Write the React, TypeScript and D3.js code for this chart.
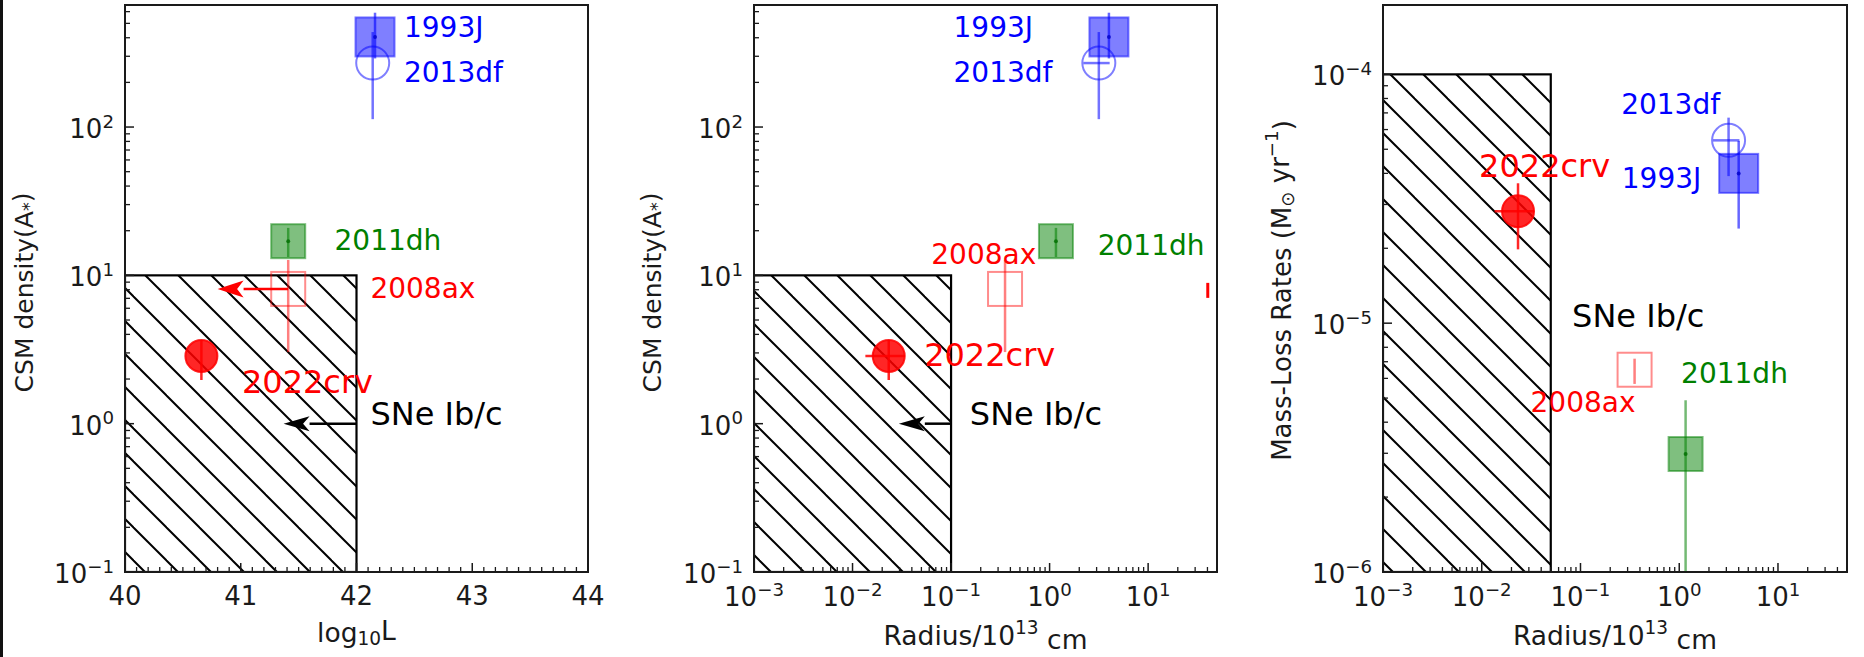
import React from "react";
import * as d3 from "d3";

const FONT = "'DejaVu Sans', Verdana, sans-serif";

// ---------------- data ----------------
const snNames = ["1993J", "2013df", "2011dh", "2008ax", "2022crv"];
const logLum = [42.16, 42.14, 41.41, 41.41, 40.66];
const csmDensity = [405, 270, 17, 8.1, 2.86];
const csmDensityLo = [290, 113, 13.3, 3.04, 1.97];
const csmDensityHi = [590, 437, 20.9, 12.7, 3.66];
const radius = [4.0, 3.16, 1.16, 0.353, 0.0233];
const radiusLo = [4.0, 2.2, 1.16, 0.353, 0.0135];
const radiusHi = [4.0, 4.07, 1.16, 0.353, 0.034];
const massLoss = [4.0e-5, 5.43e-5, 2.98e-6, 6.5e-6, 2.82e-5];
const massLossLo = [2.4e-5, 3.9e-5, 5e-7, 5.7e-6, 1.98e-5];
const massLossHi = [5.4e-5, 6.7e-5, 4.9e-6, 7.2e-6, 3.65e-5];

// 2008ax luminosity upper limit (arrow), panel 1
const limitLogL = [41.41, 40.8];
const limitDensity = 8.1;

// SNe Ib/c regions
const ibcLogL = [40, 42];
const ibcRadius = [1e-3, 0.1];
const ibcDensity = [0.1, 10];
const ibcRadiusMdot = [1e-3, 0.05];
const ibcMdot = [1e-6, 1e-4];
const ibcArrowLogL = [42, 41.37];
const ibcArrowRadius = [0.1, 0.0295];
const ibcArrowDensity = 1;
const ibcText = "SNe Ib/c";
const ibcTextP1 = [42.12, 1.16];
const ibcTextP2 = [0.155, 1.16];
const ibcTextP3 = [0.0822, 1.07e-5];

// stray red mark at right edge of panel 2
const strayRadius = 40.3;
const strayDensity = [7.05, 8.9];

// annotation positions (data coordinates)
const p1LabelX = [42.41, 42.41, 41.81, 42.12, 41.01];
const p1LabelY = [466, 235, 17.3, 8.1, 1.91];
const p2LabelX = [0.106, 0.106, 3.08, 0.063, 0.0533];
const p2LabelY = [466, 235, 16, 13.9, 2.9];
const p3LabelX = [0.262, 0.258, 1.045, 0.0312, 0.0094];
const p3LabelY = [3.81e-5, 7.57e-5, 6.3e-6, 4.78e-6, 4.3e-5];

// axes
const lumDomain = [40, 44];
const lumTicks = [40, 41, 42, 43, 44];
const densityDomain = [0.1, 665];
const densityTickExps = [-1, 0, 1, 2];
const radiusDomain = [1e-3, 50];
const radiusTickExps = [-3, -2, -1, 0, 1];
const mdotDomain = [1e-6, 1.9e-4];
const mdotTickExps = [-6, -5, -4];

// ---------------- styles ----------------
const W = 1864;
const H = 657;
const TOP = 5;
const BOTTOM = 572;
const TICK_FS = 26;
const LABEL_FS = 25;
const XLABEL_FS = 26.5;
const ANN_FS = 28;
const BIG_FS = 32;

const STYLE: Record<string, any> = {
  "1993J": { shape: "square", size: 39, fill: "rgba(0,0,255,0.5)", stroke: "rgba(0,0,255,0.5)", err: "rgba(0,0,255,0.6)", text: "#0000ff", dot: "rgba(0,0,200,0.8)" },
  "2013df": { shape: "circle", size: 33, fill: "none", stroke: "rgba(0,0,255,0.5)", err: "rgba(0,0,255,0.55)", text: "#0000ff" },
  "2011dh": { shape: "square", size: 34, fill: "rgba(0,128,0,0.5)", stroke: "rgba(0,128,0,0.5)", err: "rgba(0,128,0,0.55)", text: "#008000", dot: "rgba(0,110,0,0.8)" },
  "2008ax": { shape: "square", size: 34, fill: "none", stroke: "rgba(255,0,0,0.45)", err: "rgba(255,0,0,0.5)", text: "#ff0000" },
  "2022crv": { shape: "circle", size: 32, fill: "rgba(255,0,0,0.85)", stroke: "rgba(255,0,0,0.85)", err: "rgba(255,0,0,0.85)", text: "#ff0000" },
};

const supText = (e: number) => (e < 0 ? "\u2212" + Math.abs(e) : String(e));

function logMinor(domain: number[]) {
  const out: number[] = [];
  const lo = Math.floor(Math.log10(domain[0]));
  const hi = Math.ceil(Math.log10(domain[1]));
  for (let e = lo; e <= hi; e++) {
    for (let m = 2; m <= 9; m++) {
      const v = m * Math.pow(10, e);
      if (v >= domain[0] && v <= domain[1]) out.push(v);
    }
  }
  return out;
}

function Marker({ name, cx, cy }: { name: string; cx: number; cy: number }) {
  const s = STYLE[name];
  if (s.shape === "square") {
    return (
      <g>
        <rect x={cx - s.size / 2} y={cy - s.size / 2} width={s.size} height={s.size}
          fill={s.fill} stroke={s.stroke} strokeWidth={2} />
        {s.dot && <circle cx={cx} cy={cy} r={2} fill={s.dot} />}
      </g>
    );
  }
  return <circle cx={cx} cy={cy} r={s.size / 2} fill={s.fill} stroke={s.stroke} strokeWidth={2} />;
}

function Arrow({ x1, x2, y, color, headLen, headW }: any) {
  const dir = x2 < x1 ? -1 : 1;
  const base = x2 - dir * headLen;
  return (
    <g>
      <line x1={x1} y1={y} x2={base} y2={y} stroke={color} strokeWidth={2.5} />
      <path d={`M${x2},${y} L${base},${y - headW / 2} L${base + dir * headLen * 0.25},${y} L${base},${y + headW / 2} Z`} fill={color} />
    </g>
  );
}

function Hatch({ id, phase }: { id: string; phase: number }) {
  const p = 33;
  return (
    <pattern id={id} patternUnits="userSpaceOnUse" width={p} height={p} patternTransform={`translate(${phase},0)`}>
      <line x1={0} y1={0} x2={p} y2={p} stroke="#000" strokeWidth={2} />
      <line x1={-p} y1={0} x2={p} y2={2 * p} stroke="#000" strokeWidth={2} />
      <line x1={0} y1={-p} x2={2 * p} y2={p} stroke="#000" strokeWidth={2} />
    </pattern>
  );
}

function Frame({ left, right }: { left: number; right: number }) {
  return <rect x={left} y={TOP} width={right - left} height={BOTTOM - TOP} fill="none" stroke="#1a1a1a" strokeWidth={2} />;
}

function YLogAxis({ y, left, exps, domain }: any) {
  const minor = logMinor(domain);
  return (
    <g>
      {minor.map((v: number, i: number) => (
        <line key={"m" + i} x1={left} x2={left + 5} y1={y(v)} y2={y(v)} stroke="#1a1a1a" strokeWidth={1.3} />
      ))}
      {exps.map((e: number) => {
        const yy = y(Math.pow(10, e));
        return (
          <g key={e}>
            <line x1={left} x2={left + 9} y1={yy} y2={yy} stroke="#1a1a1a" strokeWidth={1.5} />
            <text x={left - 11} y={yy + 2} textAnchor="end" dominantBaseline="central" fontSize={TICK_FS} fontFamily={FONT} fill="#1a1a1a">
              10<tspan dy="-0.45em" fontSize="0.7em">{supText(e)}</tspan>
            </text>
          </g>
        );
      })}
    </g>
  );
}

function XLogAxis({ x, exps, domain }: any) {
  const minor = logMinor(domain);
  return (
    <g>
      {minor.map((v: number, i: number) => (
        <line key={"m" + i} x1={x(v)} x2={x(v)} y1={BOTTOM} y2={BOTTOM - 5} stroke="#1a1a1a" strokeWidth={1.3} />
      ))}
      {exps.map((e: number) => {
        const xx = x(Math.pow(10, e));
        return (
          <g key={e}>
            <line x1={xx} x2={xx} y1={BOTTOM} y2={BOTTOM - 9} stroke="#1a1a1a" strokeWidth={1.5} />
            <text x={xx} y={BOTTOM + 25} textAnchor="middle" dominantBaseline="central" fontSize={TICK_FS} fontFamily={FONT} fill="#1a1a1a">
              10<tspan dy="-0.45em" fontSize="0.7em">{supText(e)}</tspan>
            </text>
          </g>
        );
      })}
    </g>
  );
}

function Points({ x, y, xs, ys, yLo, yHi, xLo, xHi }: any) {
  return (
    <g>
      {snNames.map((n, i) => {
        const s = STYLE[n];
        return (
          <g key={n}>
            <line x1={x(xs[i])} x2={x(xs[i])} y1={y(yLo[i])} y2={y(yHi[i])} stroke={s.err} strokeWidth={2.5} />
            {xLo && xLo[i] !== xHi[i] && (
              <line x1={x(xLo[i])} x2={x(xHi[i])} y1={y(ys[i])} y2={y(ys[i])} stroke={s.err} strokeWidth={2.5} />
            )}
            <Marker name={n} cx={x(xs[i])} cy={y(ys[i])} />
          </g>
        );
      })}
    </g>
  );
}

function Labels({ x, y, lx, ly }: any) {
  return (
    <g>
      {snNames.map((n, i) => (
        <text key={n} x={x(lx[i])} y={y(ly[i])} dominantBaseline="central" fontSize={n === "2022crv" ? BIG_FS : ANN_FS}
          fontFamily={FONT} fill={STYLE[n].text}>{n}</text>
      ))}
    </g>
  );
}

export default function App() {
  const L1 = 125, R1 = 588, L2 = 754, R2 = 1217, L3 = 1383, R3 = 1847;
  const x1 = d3.scaleLinear().domain(lumDomain).range([L1, R1]);
  const x2 = d3.scaleLog().domain(radiusDomain).range([L2, R2]);
  const x3 = d3.scaleLog().domain(radiusDomain).range([L3, R3]);
  const yD = d3.scaleLog().domain(densityDomain).range([BOTTOM, TOP]);
  const yM = d3.scaleLog().domain(mdotDomain).range([BOTTOM, TOP]);

  const lumMinor = d3.range(lumDomain[0], lumDomain[1] + 1e-9, 0.1).filter((v) => Math.abs(v - Math.round(v)) > 1e-6);

  return (
    <svg width={W} height={H} viewBox={`0 0 ${W} ${H}`} style={{ position: "absolute", left: 0, top: 0, background: "#fff" }}
      fontFamily={FONT}>
      <defs>
        <Hatch id="h1" phase={2} />
        <Hatch id="h2" phase={1} />
        <Hatch id="h3" phase={29} />
        <clipPath id="c1"><rect x={L1} y={TOP} width={R1 - L1} height={BOTTOM - TOP} /></clipPath>
        <clipPath id="c2"><rect x={L2} y={TOP} width={R2 - L2} height={BOTTOM - TOP} /></clipPath>
        <clipPath id="c3"><rect x={L3} y={TOP} width={R3 - L3} height={BOTTOM - TOP} /></clipPath>
      </defs>
      <rect x={0} y={0} width={W} height={H} fill="#fff" />
      <rect x={0} y={0} width={3} height={H} fill="#111" />

      {/* ---------------- Panel 1 ---------------- */}
      <g clipPath="url(#c1)">
        <rect x={x1(ibcLogL[0])} y={yD(ibcDensity[1])} width={x1(ibcLogL[1]) - x1(ibcLogL[0])} height={yD(ibcDensity[0]) - yD(ibcDensity[1])}
          fill="url(#h1)" stroke="#000" strokeWidth={2.2} />
        <Arrow x1={x1(ibcArrowLogL[0])} x2={x1(ibcArrowLogL[1])} y={yD(ibcArrowDensity)} color="#000" headLen={26} headW={15} />
        <Points x={x1} y={yD} xs={logLum} ys={csmDensity} yLo={csmDensityLo} yHi={csmDensityHi} />
        <Arrow x1={x1(limitLogL[0])} x2={x1(limitLogL[1])} y={yD(limitDensity)} color="#ff0000" headLen={26} headW={17} />
      </g>
      <Labels x={x1} y={yD} lx={p1LabelX} ly={p1LabelY} />
      <text x={x1(ibcTextP1[0])} y={yD(ibcTextP1[1])} dominantBaseline="central" fontSize={BIG_FS} fill="#000">{ibcText}</text>
      <Frame left={L1} right={R1} />
      <YLogAxis y={yD} left={L1} exps={densityTickExps} domain={densityDomain} />
      {lumMinor.map((v, i) => (
        <line key={i} x1={x1(v)} x2={x1(v)} y1={BOTTOM} y2={BOTTOM - 5} stroke="#1a1a1a" strokeWidth={1.3} />
      ))}
      {lumTicks.map((t) => (
        <g key={t}>
          <line x1={x1(t)} x2={x1(t)} y1={BOTTOM} y2={BOTTOM - 9} stroke="#1a1a1a" strokeWidth={1.5} />
          <text x={x1(t)} y={BOTTOM + 24} textAnchor="middle" dominantBaseline="central" fontSize={TICK_FS} fill="#1a1a1a">{t}</text>
        </g>
      ))}
      <text x={(L1 + R1) / 2} y={632} textAnchor="middle" dominantBaseline="central" fontSize={XLABEL_FS} fill="#1a1a1a">
        log<tspan dy="0.3em" fontSize="0.7em">10</tspan><tspan dy="-0.3em">L</tspan>
      </text>
      <text transform={`translate(24,${(TOP + BOTTOM) / 2 + 4}) rotate(-90)`} textAnchor="middle" dominantBaseline="central" fontSize={LABEL_FS} fill="#1a1a1a">
        CSM density(A<tspan dy="0.3em" fontSize="0.7em">*</tspan><tspan dy="-0.3em">)</tspan>
      </text>

      {/* ---------------- Panel 2 ---------------- */}
      <g clipPath="url(#c2)">
        <rect x={x2(ibcRadius[0])} y={yD(ibcDensity[1])} width={x2(ibcRadius[1]) - x2(ibcRadius[0])} height={yD(ibcDensity[0]) - yD(ibcDensity[1])}
          fill="url(#h2)" stroke="#000" strokeWidth={2.2} />
        <Arrow x1={x2(ibcArrowRadius[0])} x2={x2(ibcArrowRadius[1])} y={yD(ibcArrowDensity)} color="#000" headLen={26} headW={15} />
        <Points x={x2} y={yD} xs={radius} ys={csmDensity} yLo={csmDensityLo} yHi={csmDensityHi} xLo={radiusLo} xHi={radiusHi} />
        <line x1={x2(strayRadius)} x2={x2(strayRadius)} y1={yD(strayDensity[0])} y2={yD(strayDensity[1])} stroke="#ff0000" strokeWidth={3} />
      </g>
      <Labels x={x2} y={yD} lx={p2LabelX} ly={p2LabelY} />
      <text x={x2(ibcTextP2[0])} y={yD(ibcTextP2[1])} dominantBaseline="central" fontSize={BIG_FS} fill="#000">{ibcText}</text>
      <Frame left={L2} right={R2} />
      <YLogAxis y={yD} left={L2} exps={densityTickExps} domain={densityDomain} />
      <XLogAxis x={x2} exps={radiusTickExps} domain={radiusDomain} />
      <text x={(L2 + R2) / 2} y={635} textAnchor="middle" dominantBaseline="central" fontSize={XLABEL_FS} fill="#1a1a1a">
        Radius/10<tspan dy="-0.45em" fontSize="0.7em">13</tspan><tspan dy="0.45em"> cm</tspan>
      </text>
      <text transform={`translate(652,${(TOP + BOTTOM) / 2 + 4}) rotate(-90)`} textAnchor="middle" dominantBaseline="central" fontSize={LABEL_FS} fill="#1a1a1a">
        CSM density(A<tspan dy="0.3em" fontSize="0.7em">*</tspan><tspan dy="-0.3em">)</tspan>
      </text>

      {/* ---------------- Panel 3 ---------------- */}
      <g clipPath="url(#c3)">
        <rect x={x3(ibcRadiusMdot[0])} y={yM(ibcMdot[1])} width={x3(ibcRadiusMdot[1]) - x3(ibcRadiusMdot[0])} height={yM(ibcMdot[0]) - yM(ibcMdot[1])}
          fill="url(#h3)" stroke="#000" strokeWidth={2.2} />
        <Points x={x3} y={yM} xs={radius} ys={massLoss} yLo={massLossLo} yHi={massLossHi} xLo={radiusLo} xHi={radiusHi} />
      </g>
      <Labels x={x3} y={yM} lx={p3LabelX} ly={p3LabelY} />
      <text x={x3(ibcTextP3[0])} y={yM(ibcTextP3[1])} dominantBaseline="central" fontSize={BIG_FS} fill="#000">{ibcText}</text>
      <Frame left={L3} right={R3} />
      <YLogAxis y={yM} left={L3} exps={mdotTickExps} domain={mdotDomain} />
      <XLogAxis x={x3} exps={radiusTickExps} domain={radiusDomain} />
      <text x={(L3 + R3) / 2} y={635} textAnchor="middle" dominantBaseline="central" fontSize={XLABEL_FS} fill="#1a1a1a">
        Radius/10<tspan dy="-0.45em" fontSize="0.7em">13</tspan><tspan dy="0.45em"> cm</tspan>
      </text>
      <text transform={`translate(1282,${(TOP + BOTTOM) / 2 + 2}) rotate(-90)`} textAnchor="middle" dominantBaseline="central" fontSize={26} fill="#1a1a1a">
        Mass-Loss Rates (M<tspan dy="0.3em" fontSize="0.7em">⊙</tspan><tspan dy="-0.3em"> yr</tspan><tspan dy="-0.45em" fontSize="0.7em">−1</tspan><tspan dy="0.45em">)</tspan>
      </text>
    </svg>
  );
}
